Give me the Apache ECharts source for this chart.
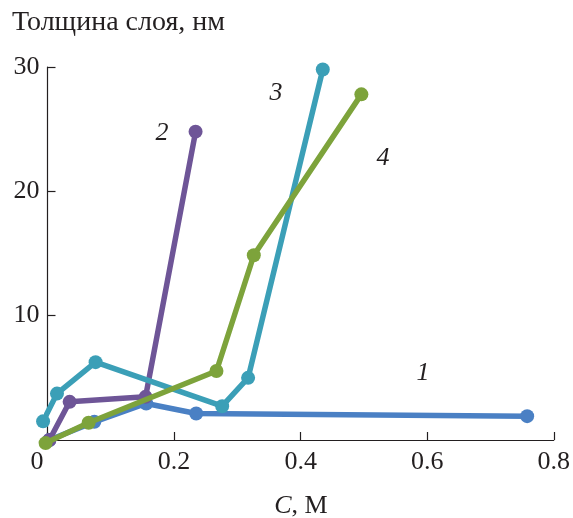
<!DOCTYPE html>
<html>
<head>
<meta charset="utf-8">
<script src="https://cdn.jsdelivr.net/npm/echarts@6/dist/echarts.min.js"></script>
<style>html,body{margin:0;padding:0;background:#fff}#c{width:573px;height:518px}</style>
</head>
<body>
<div id="c"></div>
<script>
var xTicks = [0, 0.2, 0.4, 0.6, 0.8];
var yTicks = [10, 20, 30];
var s1 = [[0.003, 0], [0.074, 1.46], [0.156, 2.94], [0.235, 2.13], [0.758, 1.92]];
var s2 = [[0.003, 0], [0.035, 3.07], [0.155, 3.47], [0.234, 24.8]];
var s3 = [[-0.007, 1.5], [0.015, 3.73], [0.076, 6.26], [0.276, 2.72], [0.317, 5.0], [0.435, 29.8]];
var s4 = [[-0.003, -0.25], [0.065, 1.39], [0.267, 5.55], [0.326, 14.86], [0.496, 27.8]];
var seriesNames = ['1', '2', '3', '4'];
var colors = ['#4a80c4', '#6e5597', '#3b9fb7', '#7da33b'];
var labelPos = [[423, 373], [162, 133], [276, 93], [383, 158]];

var chart = echarts.init(document.getElementById('c'));
var font = '"Liberation Serif", "DejaVu Serif", serif';
var ink = '#231f20';
function mk(data, i) {
  return {
    type: 'line', name: seriesNames[i], data: data, clip: false,
    symbol: 'circle', symbolSize: 14, showAllSymbol: true,
    lineStyle: {color: colors[i], width: 5.5},
    itemStyle: {color: colors[i]},
    z: 2 + i
  };
}
var order = [[s1, 0], [s2, 1], [s4, 3], [s3, 2]];
chart.setOption({
  animation: false,
  grid: {left: 47.5, right: 19, top: 67, bottom: 78, containLabel: false},
  xAxis: {
    type: 'value', min: 0, max: 0.8, interval: 0.2,
    axisLine: {show: true, lineStyle: {color: ink, width: 1.2}},
    axisTick: {show: true, inside: true, length: 8, lineStyle: {color: ink, width: 1.2}},
    splitLine: {show: false},
    axisLabel: {
      margin: 9, color: ink, fontFamily: font, fontSize: 26,
      formatter: function (v) { return v === 0 ? '{z|0}' : String(Math.round(v * 10) / 10); },
      rich: {z: {padding: [0, 21, 0, 0], fontFamily: font, fontSize: 26, color: ink}}
    }
  },
  yAxis: {
    type: 'value', min: 0, max: 30, interval: 10,
    axisLine: {show: true, lineStyle: {color: ink, width: 1.2}},
    axisTick: {show: true, inside: true, length: 8, lineStyle: {color: ink, width: 1.2}},
    splitLine: {show: false},
    axisLabel: {
      margin: 8, color: ink, fontFamily: font, fontSize: 26,
      formatter: function (v) { return yTicks.indexOf(v) >= 0 ? String(v) : ''; }
    }
  },
  graphic: [
    {type: 'text', x: 12, y: 23, style: {text: 'Толщина слоя, нм', textVerticalAlign: 'middle', font: '28px ' + font, fill: ink}},
    {type: 'text', x: 301, y: 506, style: {
      text: '{i|C}{n|, М}', textAlign: 'center', textVerticalAlign: 'middle',
      rich: {i: {fontFamily: font, fontSize: 26, fontStyle: 'italic', fill: ink},
             n: {fontFamily: font, fontSize: 26, fill: ink}}
    }}
  ].concat(labelPos.map(function (p, i) {
    return {type: 'text', x: p[0], y: p[1], style: {text: seriesNames[i], textAlign: 'center', textVerticalAlign: 'middle',
      font: 'italic 26px ' + font, fill: ink}};
  })),
  series: order.map(function (o) { return mk(o[0], o[1]); })
});
</script>
</body>
</html>
